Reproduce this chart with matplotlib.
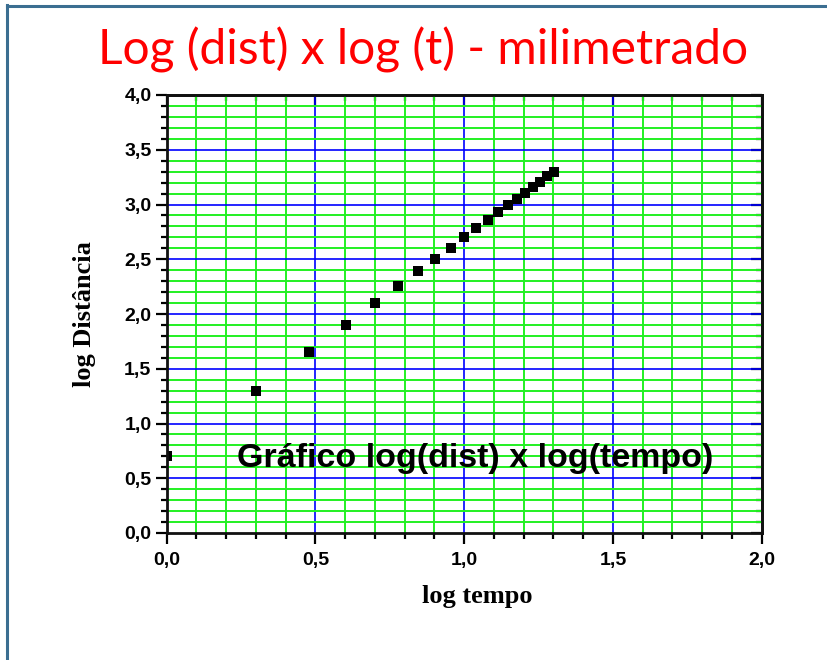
import matplotlib
matplotlib.use("Agg")
import matplotlib.pyplot as plt
from matplotlib.lines import Line2D
from matplotlib.ticker import MultipleLocator, FuncFormatter, NullFormatter

# data
log_tempo = [0.000, 0.301, 0.477, 0.602, 0.699, 0.778, 0.845, 0.903, 0.954, 1.000,
             1.041, 1.079, 1.114, 1.146, 1.176, 1.204, 1.230, 1.255, 1.279, 1.301]
log_dist = [0.699, 1.301, 1.653, 1.903, 2.097, 2.255, 2.389, 2.505, 2.607, 2.699,
            2.782, 2.857, 2.927, 2.991, 3.051, 3.107, 3.160, 3.210, 3.256, 3.301]

title = "Log (dist) x log (t) - milimetrado"
annot = "Gráfico log(dist) x log(tempo)"
xlabel = "log tempo"
ylabel = "log Distância"

W, H = 828, 660
fig = plt.figure(figsize=(W / 100, H / 100), dpi=100)
fig.patch.set_facecolor("white")

# slide frame
border_c = "#3B6E91"
fig.add_artist(Line2D([7 / W, 7 / W], [0, 1 - 5 / H], transform=fig.transFigure,
                      color=border_c, lw=2.2))
fig.add_artist(Line2D([7 / W, 1], [1 - 6 / H, 1 - 6 / H], transform=fig.transFigure,
                      color=border_c, lw=2.2))

fig.text(423 / W, 1 - 50 / H, title, color="#FF0000", fontsize=34.5,
         family="Lato", ha="center", va="center")

left, right, top, bottom = 166.7, 761.7, 95, 533
ax = fig.add_axes([left / W, 1 - bottom / H, (right - left) / W, (bottom - top) / H])
ax.set_xlim(0, 2)
ax.set_ylim(0, 4)

# grid
for v in [i / 10 for i in range(1, 20)]:
    major = abs(v * 2 - round(v * 2)) < 1e-9
    ax.axvline(v, color="#0000FF" if major else "#22F022", lw=1.2 if major else 1.4, zorder=1)
for v in [i / 10 for i in range(1, 40)]:
    major = abs(v * 2 - round(v * 2)) < 1e-9
    ax.axhline(v, color="#0000FF" if major else "#22F022", lw=1.2 if major else 1.4, zorder=1)

ax.scatter(log_tempo, log_dist, marker="s", s=44, color="black", zorder=3, clip_on=True,
           linewidths=0)

ax.text(0.236, 0.676, annot, fontsize=24.5, fontweight="bold", family="Liberation Sans",
        ha="left", va="center", zorder=4)

fmt = FuncFormatter(lambda v, p: f"{v:.1f}".replace(".", ","))
for a in (ax.xaxis, ax.yaxis):
    a.set_major_locator(MultipleLocator(0.5))
    a.set_minor_locator(MultipleLocator(0.1))
    a.set_major_formatter(fmt)

ax.tick_params(which="both", direction="out", width=1.6, color="black",
               top=False, right=False, labelsize=14, labelfontfamily="Liberation Sans")
ax.tick_params(which="major", length=8)
ax.tick_params(which="minor", length=4)
ax.tick_params(axis="x", pad=6)
ax.tick_params(axis="y", pad=3)

# top / right ticks pointing inward
secx = ax.secondary_xaxis("top")
secy = ax.secondary_yaxis("right")
for s, a in ((secx, secx.xaxis), (secy, secy.yaxis)):
    a.set_major_locator(MultipleLocator(0.5))
    a.set_minor_locator(MultipleLocator(0.1))
    a.set_major_formatter(NullFormatter())
    s.tick_params(which="both", direction="in", width=1.6, color="black")
    s.tick_params(which="major", length=8)
    s.tick_params(which="minor", length=4)
    for sp in s.spines.values():
        sp.set_linewidth(2)
        sp.set_color("#111111")

fig.canvas.draw()
for lab in ax.get_xticklabels() + ax.get_yticklabels():
    lab.set_fontweight("bold")

for s in ax.spines.values():
    s.set_linewidth(2)
    s.set_color("#111111")
    s.set_zorder(5)

ax.set_xlabel(xlabel, fontsize=19, fontweight="bold", family="Liberation Serif")
ax.set_ylabel(ylabel, fontsize=19, fontweight="bold", family="Liberation Serif")
ax.xaxis.set_label_coords((477 - left) / (right - left), -(597 - bottom) / (bottom - top))
ax.xaxis.label.set_va("center")
ax.yaxis.set_label_coords(-(left - 85) / (right - left), 0.5)
ax.yaxis.label.set_va("center")

fig.savefig("out.png", dpi=100)
